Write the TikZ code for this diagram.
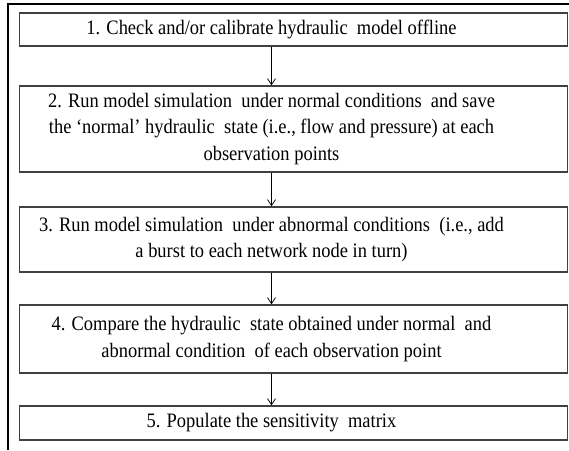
\documentclass[tikz,border=0pt]{standalone}
\usepackage{fontspec}
\setmainfont[FakeStretch=0.9]{Liberation Serif}
\usetikzlibrary{positioning,calc,arrows.meta}

\begin{document}
\begin{tikzpicture}[x=1pt,y=-1pt,->,>={Straight Barb[length=6pt,width=8pt]},
			line width=0.8pt,
			main node/.style={draw=black!75, line width=1.3pt, rectangle, minimum width=548pt, inner sep=0pt},
			step text/.style={align=center, font=\fontsize{20.5}{26.5}\selectfont, xshift=-22pt}]
			\useasboundingbox (0,0) rectangle (569,450);
			
			% outer frame (only top and left edge are visible)
			\draw[-, black, line width=1.6pt] (8,450) -- (8,4) -- (569,4);
			
			\node[main node, minimum height=33pt] (1) at (293.5,29.5) {};
			\node[main node, minimum height=86pt] (2) at (293.5,129) {};
			\node[main node, minimum height=65pt] (3) at (293.5,239.5) {};
			\node[main node, minimum height=68pt] (4) at (293.5,339) {};
			\node[main node, minimum height=34pt] (5) at (293.5,423) {};
			
			\node[step text] (t1) at (1.center) {1. Check and/or calibrate hydraulic\ \ model offline};
			\node[step text] (t2) at (2.center) {2. Run model simulation\ \ under normal conditions\ \ and save\\
				the `normal' hydraulic\ \ state (i.e., flow and pressure) at each\\
				observation points};
			\node[step text] (t3) at (3.center) {3. Run model simulation\ \ under abnormal conditions\ \ (i.e., add\\
				a burst to each network node in turn)};
			\node[step text] (t4) at (4.center) {4. Compare the hydraulic\ \ state obtained under normal\ \ and\\
				abnormal condition\ \ of each observation point};
			\node[step text] (t5) at (5.center) {5. Populate the sensitivity\ \ matrix};
			
			\draw (1.south -| t1) -- (2.north -| t1);
			\draw (2.south -| t1) -- (3.north -| t1);
			\draw (3.south -| t1) -- (4.north -| t1);
			\draw (4.south -| t1) -- (5.north -| t1);
			
		\end{tikzpicture}
\end{document}
